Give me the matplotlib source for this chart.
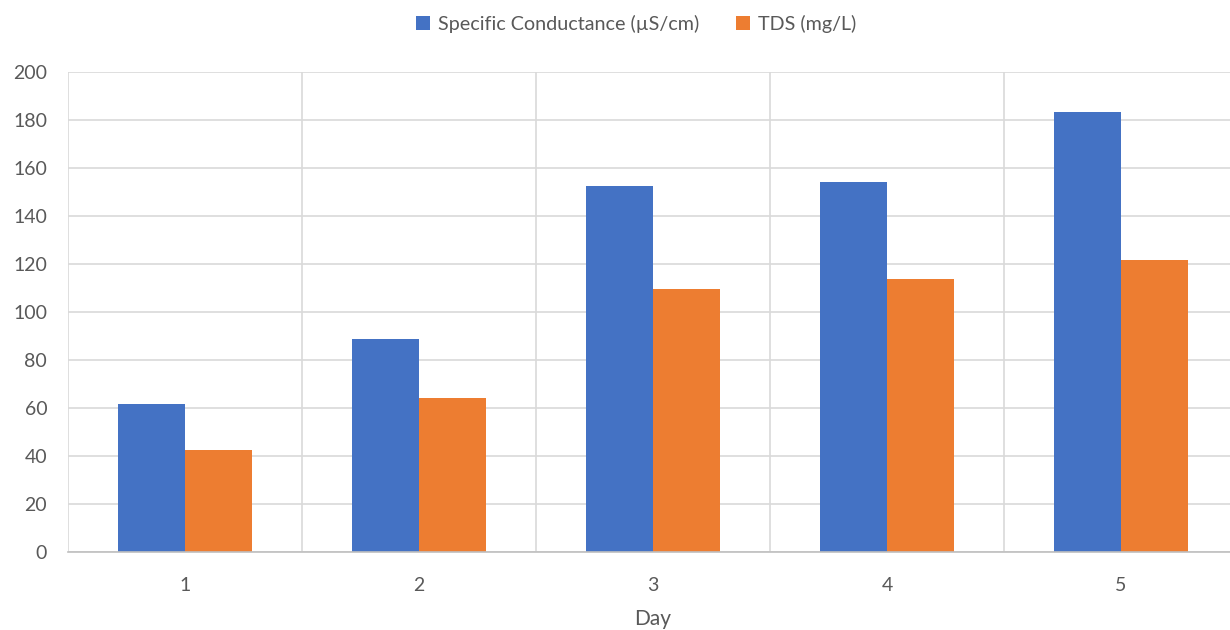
import matplotlib
matplotlib.use("Agg")
import matplotlib.pyplot as plt
import numpy as np

days = ["1", "2", "3", "4", "5"]
conductance = [61.8, 88.8, 152.4, 154.1, 183.5]
tds = [42.5, 64.2, 109.8, 113.6, 121.8]
series_names = ["Specific Conductance (µS/cm)", "TDS (mg/L)"]
y_ticks = [0, 20, 40, 60, 80, 100, 120, 140, 160, 180, 200]

plt.rcParams["font.family"] = ["Lato", "DejaVu Sans"]
text_color = "#595959"
grid_color = "#d9d9d9"

W, H = 1230, 630
fig = plt.figure(figsize=(W / 100, H / 100), dpi=100)
left, right = 68, 1238
bottom, top = 551.7, 72.3
ax = fig.add_axes([left / W, (H - bottom) / H, (right - left) / W, (bottom - top) / H])

x = np.arange(1, len(days) + 1)
w = 1 / 3.5
ax.bar(x - w / 2, conductance, width=w, color="#4472C4", label=series_names[0], zorder=3)
ax.bar(x + w / 2, tds, width=w, color="#ED7D31", label=series_names[1], zorder=3)

ax.set_xlim(0.5, len(days) + 0.5)
ax.set_ylim(0, 200)
ax.set_yticks(y_ticks)
ax.set_xticks(x)
ax.set_xticklabels(days)
ax.set_xticks(np.arange(0.5, len(days) + 1, 1), minor=True)

ax.grid(axis="y", which="major", color=grid_color, linewidth=1.2, zorder=0)
ax.grid(axis="x", which="minor", color=grid_color, linewidth=1.2, zorder=0)
ax.grid(axis="x", which="major", visible=False)

for s in ["top", "right", "left"]:
    ax.spines[s].set_visible(False)
ax.spines["bottom"].set_color("#bfbfbf")
ax.spines["bottom"].set_linewidth(1.2)
ax.spines["bottom"].set_zorder(4)

ax.tick_params(axis="both", which="both", length=0, labelsize=14, colors=text_color)
ax.tick_params(axis="y", pad=15)
ax.tick_params(axis="x", pad=18)
ax.set_xlabel("Day", fontsize=15, color=text_color, labelpad=11)

fig.legend(loc="center", bbox_to_anchor=(636 / W, 1 - 24 / H), ncol=2, frameon=False,
           fontsize=14.2, labelcolor=text_color, handlelength=0.7, handleheight=0.7,
           handletextpad=0.4, columnspacing=1.9)

fig.savefig("out.png", dpi=100, facecolor="white")
